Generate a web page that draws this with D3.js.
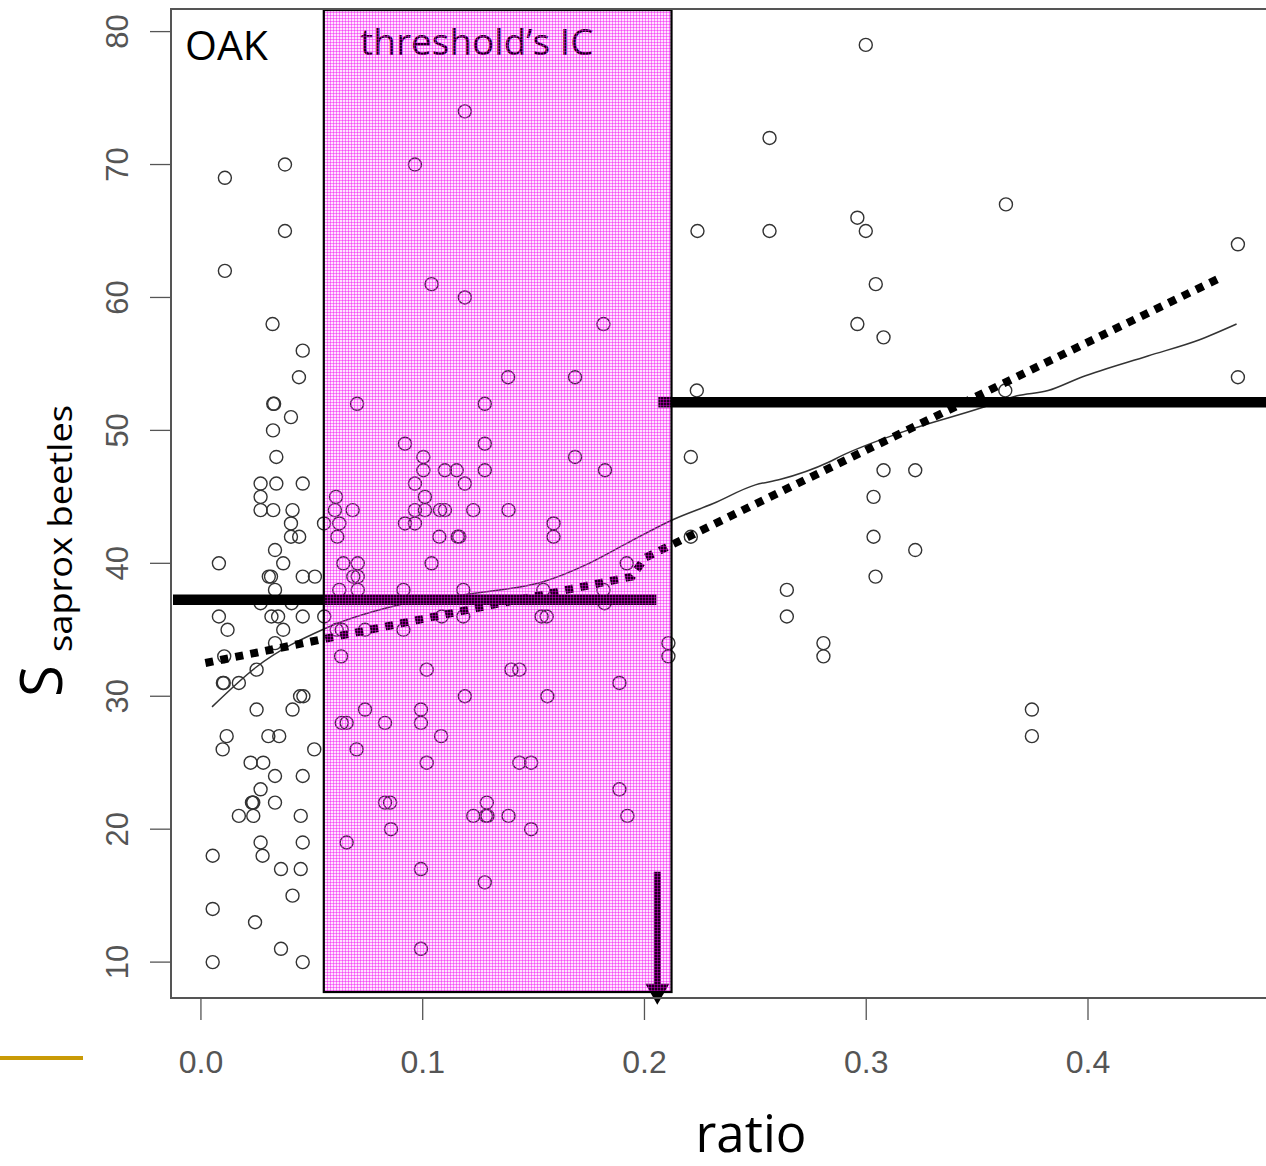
<!DOCTYPE html>
<html>
<head>
<meta charset="utf-8">
<script src="https://cdn.jsdelivr.net/npm/d3@7"></script>
<style>
  body { margin: 0; background: #fff; }
  svg { display: block; }
</style>
</head>
<body>
<div id="chart"></div>
<script>
// S saprox beetles levels, and the ratio of every plot observed at that level
const sLevels = [79, 74, 72, 70, 69, 67, 66, 65, 64, 62, 61, 60, 58, 57, 56, 54, 53, 52, 51, 50,
  49, 48, 47, 46, 45, 44, 43, 42, 41, 40, 39, 38, 37, 36, 35, 34, 33, 32, 31, 30,
  29, 28, 27, 26, 25, 24, 23, 22, 21, 20, 19, 18, 17, 16, 15, 14, 13, 11, 10];
const ratiosAtLevel = [
  [0.2998], [0.119], [0.2564], [0.0379, 0.0965], [0.0108], [0.363], [0.296],
  [0.0379, 0.2239, 0.2564, 0.2998], [0.4676], [0.0108], [0.104, 0.3043], [0.119],
  [0.0323, 0.1815, 0.296], [0.3078], [0.0459], [0.0442, 0.1385, 0.1687, 0.4676],
  [0.2236, 0.3627], [0.0326, 0.033, 0.0704, 0.128], [0.0406], [0.0325],
  [0.092, 0.128], [0.034, 0.1003, 0.1687, 0.2209],
  [0.1003, 0.110, 0.1153, 0.128, 0.1822, 0.3078, 0.3221],
  [0.0269, 0.034, 0.0459, 0.0965, 0.119], [0.0269, 0.0609, 0.101, 0.3033],
  [0.0269, 0.0326, 0.0413, 0.0604, 0.0684, 0.0965, 0.101, 0.1078, 0.110, 0.1228, 0.1387],
  [0.0406, 0.0555, 0.0624, 0.092, 0.0965, 0.159],
  [0.0406, 0.0443, 0.0615, 0.1075, 0.1158, 0.1165, 0.159, 0.2209, 0.3033],
  [0.0334, 0.3221], [0.0081, 0.0371, 0.0642, 0.0707, 0.104, 0.192],
  [0.0306, 0.0316, 0.0459, 0.0514, 0.0687, 0.0707, 0.3042],
  [0.0334, 0.0624, 0.0707, 0.0913, 0.1183, 0.1544, 0.1815, 0.2642],
  [0.0269, 0.0409, 0.182],
  [0.0081, 0.0318, 0.0348, 0.0459, 0.0556, 0.1086, 0.1183, 0.1536, 0.1559, 0.2642],
  [0.012, 0.0371, 0.0612, 0.0635, 0.074, 0.0913], [0.0334, 0.2108, 0.2807],
  [0.0105, 0.0632, 0.2108, 0.2807], [0.0251, 0.1018, 0.140, 0.1436],
  [0.0099, 0.0103, 0.0171, 0.1887], [0.0447, 0.0462, 0.119, 0.1562],
  [0.0251, 0.0413, 0.074, 0.0992, 0.3747], [0.0635, 0.0657, 0.083, 0.0992],
  [0.0116, 0.0304, 0.0353, 0.1083, 0.3747], [0.0098, 0.0511, 0.0702],
  [0.0224, 0.0281, 0.1018, 0.1436, 0.1489], [0.0334, 0.0459], [0.0269, 0.1887],
  [0.023, 0.0233, 0.0236, 0.0334, 0.083, 0.0853, 0.1289],
  [0.0171, 0.0236, 0.045, 0.1228, 0.1285, 0.1292, 0.1387, 0.1923],
  [0.0857, 0.1489], [0.0269, 0.0459, 0.0657], [0.0053, 0.0278], [0.0361, 0.045, 0.0992],
  [0.128], [0.0413], [0.0053], [0.0244], [0.0361, 0.0992], [0.0053, 0.0459]
];

// lowess smoother
const smoothRatio = [0.005, 0.025, 0.056, 0.09, 0.126, 0.154, 0.175, 0.192, 0.213, 0.231, 0.25,
  0.261, 0.283, 0.289, 0.315, 0.352, 0.368, 0.382, 0.397, 0.427, 0.45, 0.467];
const smoothS = [29.2, 32.2, 35.1, 36.9, 37.8, 38.6, 40.0, 41.5, 43.3, 44.5, 45.9,
  46.3, 47.6, 48.1, 49.8, 51.7, 52.6, 53.0, 54.0, 55.6, 56.8, 58.0];

// broken-stick fit (dotted)
const fitRatio = [0.002, 0.1943, 0.2003, 0.4605];
const fitS = [32.5, 39.0, 40.42, 61.55];

// threshold model
const threshold = 0.2058;
const icRange = [0.0554, 0.2122];
const meanBelow = 37.26;
const meanAbove = 52.11;
const arrowS = [16.8, 6.8];

const xTicks = [0, 0.1, 0.2, 0.3, 0.4];
const yTicks = [10, 20, 30, 40, 50, 60, 70, 80];

const W = 1266, H = 1166;
const plot = { left: 171, top: 9, bottom: 998, right: 1290 };

const svg = d3.select('#chart').append('svg').attr('width', W).attr('height', H);

const x = d3.scaleLinear().domain([-0.0135, 0.4]).range([plot.left, 1088]);
const y = d3.scaleLinear().domain([7.3, 81.7]).range([plot.bottom, plot.top]);

// pink grid texture for the IC band
const defs = svg.append('defs');
const pat = defs.append('pattern').attr('id', 'pinkgrid').attr('patternUnits', 'userSpaceOnUse')
  .attr('width', 3).attr('height', 3);
pat.append('rect').attr('width', 3).attr('height', 3).attr('fill', 'rgba(255,0,255,0.11)');
pat.append('rect').attr('width', 3).attr('height', 1).attr('fill', 'rgba(240,0,240,0.42)');
pat.append('rect').attr('width', 1).attr('height', 3).attr('fill', 'rgba(240,0,240,0.42)');

const points = [];
sLevels.forEach((s, i) => ratiosAtLevel[i].forEach(r => points.push({ r, s })));

svg.append('g').selectAll('circle').data(points).enter().append('circle')
  .attr('cx', d => x(d.r)).attr('cy', d => y(d.s)).attr('r', 6.5)
  .attr('fill', 'none').attr('stroke', '#333').attr('stroke-width', 1.4);

// smoother
svg.append('path')
  .datum(smoothRatio.map((r, i) => [r, smoothS[i]]))
  .attr('d', d3.line().x(d => x(d[0])).y(d => y(d[1])).curve(d3.curveMonotoneX))
  .attr('fill', 'none').attr('stroke', '#333').attr('stroke-width', 1.5);

// fitted line
svg.append('path')
  .datum(fitRatio.map((r, i) => [r, fitS[i]]))
  .attr('d', d3.line().x(d => x(d[0])).y(d => y(d[1])))
  .attr('fill', 'none').attr('stroke', '#000').attr('stroke-width', 8)
  .attr('stroke-dasharray', '8,7.3');

// segment means
svg.append('line').attr('x1', plot.left + 2).attr('x2', x(threshold) - 1)
  .attr('y1', y(meanBelow)).attr('y2', y(meanBelow))
  .attr('stroke', '#000').attr('stroke-width', 10.5);
svg.append('line').attr('x1', x(threshold) + 1).attr('x2', W + 10)
  .attr('y1', y(meanAbove)).attr('y2', y(meanAbove))
  .attr('stroke', '#000').attr('stroke-width', 10.5);

// threshold arrow
const ax = x(threshold);
svg.append('line').attr('x1', ax).attr('x2', ax)
  .attr('y1', y(arrowS[0])).attr('y2', y(arrowS[1]) - 18)
  .attr('stroke', '#000').attr('stroke-width', 7);
svg.append('path')
  .attr('d', `M${ax - 12},${y(arrowS[1]) - 21} L${ax + 12},${y(arrowS[1]) - 21} L${ax},${y(arrowS[1])} Z`)
  .attr('fill', '#000');

svg.append('text').attr('x', 360).attr('y', 55)
  .style('font-family', '"Open Sans", sans-serif').style('font-size', '37px')
  .attr('fill', '#000').text('threshold\u2019s IC');

// IC band overlay + border
svg.append('rect')
  .attr('x', x(icRange[0])).attr('y', plot.top + 1)
  .attr('width', x(icRange[1]) - x(icRange[0])).attr('height', y(7.75) - plot.top - 1)
  .attr('fill', 'url(#pinkgrid)')
  .attr('stroke', '#000').attr('stroke-width', 2.2);

// frame
svg.append('rect').attr('x', plot.left).attr('y', plot.top)
  .attr('width', plot.right - plot.left).attr('height', plot.bottom - plot.top)
  .attr('fill', 'none').attr('stroke', '#555').attr('stroke-width', 2);

// axes
const axisFont = '"Liberation Sans", Arial, sans-serif';
svg.append('g').selectAll('line').data(xTicks).enter().append('line')
  .attr('x1', d => x(d)).attr('x2', d => x(d)).attr('y1', plot.bottom).attr('y2', plot.bottom + 22)
  .attr('stroke', '#555').attr('stroke-width', 1.3);
svg.append('g').selectAll('text').data(xTicks).enter().append('text')
  .attr('x', d => x(d)).attr('y', 1073).attr('text-anchor', 'middle')
  .style('font-family', axisFont).style('font-size', '32px').attr('fill', '#555')
  .text(d3.format('.1f'));

svg.append('g').selectAll('line').data(yTicks).enter().append('line')
  .attr('x1', plot.left - 21).attr('x2', plot.left).attr('y1', d => y(d)).attr('y2', d => y(d))
  .attr('stroke', '#555').attr('stroke-width', 1.3);
svg.append('g').selectAll('text').data(yTicks).enter().append('text')
  .attr('transform', d => `translate(128, ${y(d)}) rotate(-90)`).attr('text-anchor', 'middle')
  .style('font-family', axisFont).style('font-size', '31px').attr('fill', '#555')
  .text(d => d);

// labels
const labelFont = '"Open Sans", sans-serif';
svg.append('text').attr('x', 185).attr('y', 60)
  .style('font-family', labelFont).style('font-size', '41px').attr('fill', '#000').text('OAK');
svg.append('text').attr('x', 751).attr('y', 1152).attr('text-anchor', 'middle')
  .style('font-family', labelFont).style('font-size', '51px').attr('fill', '#000').text('ratio');
svg.append('text').attr('transform', 'translate(62, 697) rotate(-90)')
  .style('font-family', labelFont).style('font-size', '58px').attr('fill', '#000').text('S');
svg.append('text').attr('transform', 'translate(72, 652) rotate(-90)')
  .attr('textLength', 247).attr('lengthAdjust', 'spacingAndGlyphs')
  .style('font-family', labelFont).style('font-size', '33px').attr('fill', '#000').text('saprox beetles');

// slide accent line
svg.append('line').attr('x1', 0).attr('x2', 83).attr('y1', 1058).attr('y2', 1058)
  .attr('stroke', '#c99a06').attr('stroke-width', 4);
</script>
</body>
</html>
